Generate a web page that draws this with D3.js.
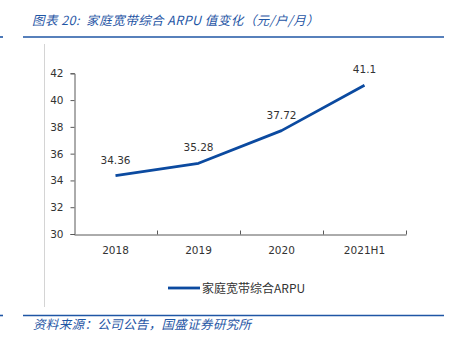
<!DOCTYPE html>
<html><head><meta charset="utf-8">
<script src="https://cdn.jsdelivr.net/npm/d3@7"></script>
<style>
html,body{margin:0;padding:0;background:#fff;}
svg{display:block;}
</style></head>
<body>
<svg id="c" width="450" height="347"></svg>
<script>
const categories = ["2018", "2019", "2020", "2021H1"];
const values = [34.36, 35.28, 37.72, 41.1];
const valueLabels = ["34.36", "35.28", "37.72", "41.1"];
const yTicks = [30, 32, 34, 36, 38, 40, 42];
const seriesName = "家庭宽带综合ARPU";
const titleText = "图表 20:  家庭宽带综合 ARPU 值变化（元/户/月）";
const sourceText = "资料来源：公司公告，国盛证券研究所";

const svg = d3.select("#c");
const blue = "#1f56a5";
const lineColor = "#0b4aa0";
const cjk = "'Noto Sans CJK SC', 'Noto Sans', sans-serif";
const num = "'DejaVu Sans', Verdana, sans-serif";

// header / footer decorations
svg.append("text").attr("x", 32).attr("y", 25)
  .attr("font-family", cjk).attr("font-size", 12.5).attr("font-style", "italic")
  .attr("letter-spacing", 0.45)
  .attr("fill", blue).attr("xml:space", "preserve").style("white-space", "pre").text(titleText);
svg.append("line").attr("x1", 23).attr("x2", 444).attr("y1", 37).attr("y2", 37)
  .attr("stroke", blue).attr("stroke-width", 1.6);
svg.append("line").attr("x1", 0).attr("x2", 3).attr("y1", 37).attr("y2", 37)
  .attr("stroke", blue).attr("stroke-width", 1.6);
svg.append("line").attr("x1", 44.5).attr("x2", 44.5).attr("y1", 44).attr("y2", 307)
  .attr("stroke", "#d4d4d4").attr("stroke-width", 1);
svg.append("line").attr("x1", 23).attr("x2", 444).attr("y1", 315.5).attr("y2", 315.5)
  .attr("stroke", blue).attr("stroke-width", 1.6);
svg.append("line").attr("x1", 0).attr("x2", 3).attr("y1", 315.5).attr("y2", 315.5)
  .attr("stroke", blue).attr("stroke-width", 1.6);
svg.append("text").attr("x", 33).attr("y", 329)
  .attr("font-family", cjk).attr("font-size", 12.5).attr("font-style", "italic")
  .attr("letter-spacing", 0.35)
  .attr("fill", blue).text(sourceText);

// scales
const x = d3.scaleBand().domain(categories).range([74, 406]);
const y = d3.scaleLinear().domain([30, 42]).range([234, 73.3]);

// y axis
const yAxis = svg.append("g").attr("transform", "translate(74.5,0)")
  .call(d3.axisLeft(y).tickValues(yTicks).tickSize(4).tickPadding(7).tickFormat(d3.format("d")));
yAxis.select(".domain").attr("stroke", "#595959");
yAxis.selectAll(".tick line").attr("stroke", "#595959");
yAxis.selectAll("text").attr("font-family", num).attr("font-size", 10.5).attr("fill", "#333");

// x axis with inner ticks at band boundaries
const xAxis = svg.append("g").attr("transform", "translate(0,234.5)")
  .call(d3.axisBottom(x).tickSize(0).tickPadding(12).tickSizeOuter(0));
xAxis.select(".domain").attr("stroke", "#595959");
xAxis.selectAll("text").attr("font-family", num).attr("font-size", 10.5).attr("fill", "#333");
const bounds = categories.map(c => x(c) + x.bandwidth()).map(Math.round);
xAxis.selectAll(".bt").data(bounds).enter().append("line")
  .attr("x1", d => d + 0.5).attr("x2", d => d + 0.5).attr("y1", 0).attr("y2", -4)
  .attr("stroke", "#595959");

// line
const line = d3.line().x((d, i) => x(categories[i]) + x.bandwidth() / 2).y(d => y(d));
svg.append("path").datum(values).attr("d", line)
  .attr("fill", "none").attr("stroke", lineColor).attr("stroke-width", 2.8)
  .attr("stroke-linejoin", "round");

// value labels
svg.selectAll(".vl").data(values).enter().append("text")
  .attr("x", (d, i) => x(categories[i]) + x.bandwidth() / 2)
  .attr("y", d => y(d) - 12)
  .attr("text-anchor", "middle").attr("font-family", num).attr("font-size", 10.5)
  .attr("fill", "#333").text((d, i) => valueLabels[i]);

// legend
svg.append("line").attr("x1", 168).attr("x2", 200).attr("y1", 288).attr("y2", 288)
  .attr("stroke", lineColor).attr("stroke-width", 2.8);
svg.append("text").attr("x", 202).attr("y", 292.5)
  .attr("font-family", cjk).attr("font-size", 12).attr("fill", "#333").text(seriesName);
</script>
</body></html>
